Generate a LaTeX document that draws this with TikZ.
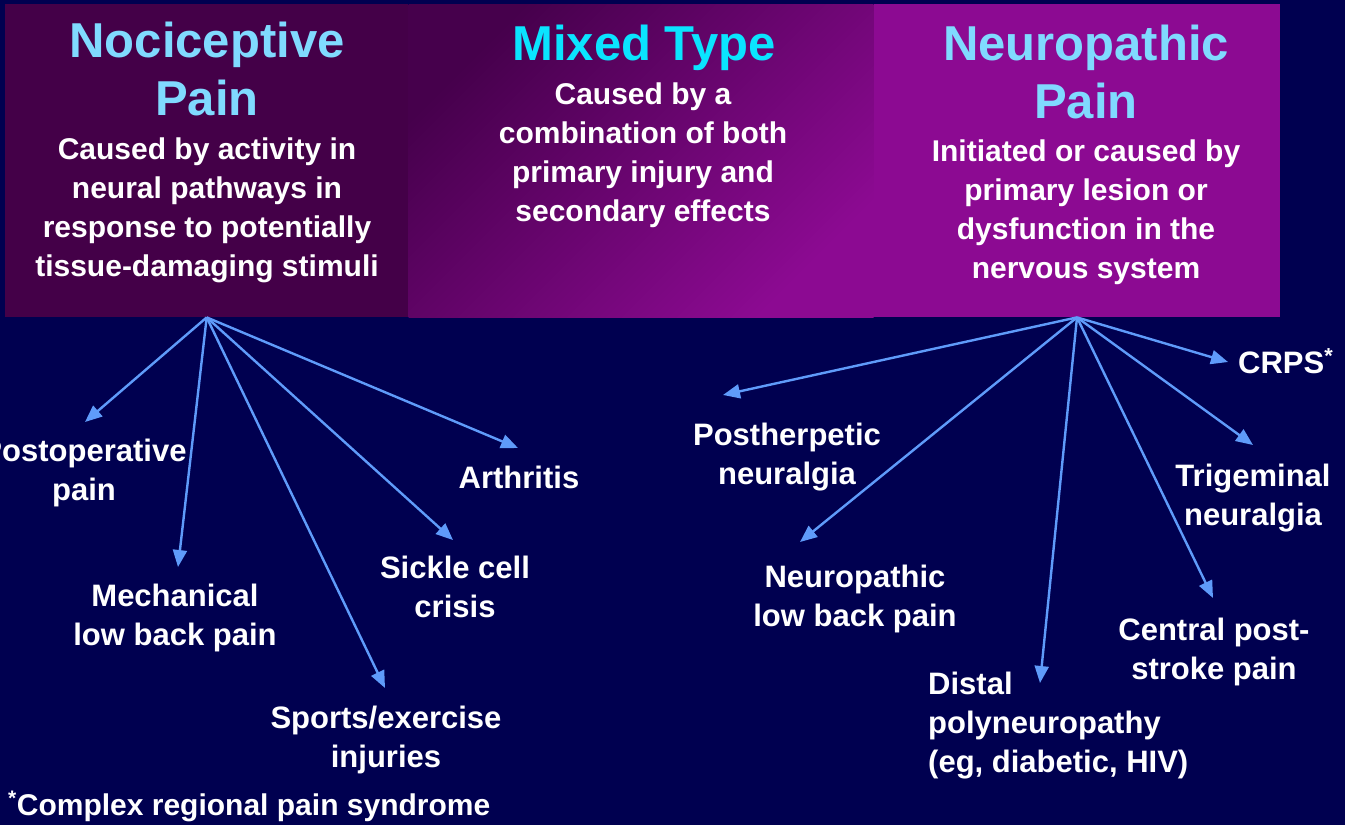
\documentclass[tikz,border=0pt]{standalone}
\usepackage{fontspec}
\setmainfont{Liberation Sans}
\usepackage{xcolor}
\usetikzlibrary{arrows.meta,positioning}
\definecolor{slidebg}{RGB}{0,0,80}
\definecolor{nocifill}{RGB}{68,0,72}
\definecolor{mixdark}{RGB}{70,0,76}
\definecolor{neufill}{RGB}{140,10,146}
\definecolor{titlecyan}{RGB}{128,218,255}
\definecolor{mixcyan}{RGB}{10,228,255}
\definecolor{arrowblue}{RGB}{95,155,250}

\begin{document}
\begin{tikzpicture}[
    x=1pt, y=-1pt,
    >={Triangle[length=17pt,width=14pt]},
    headbox/.style={inner sep=0pt, minimum height=313pt},
    headtitle/.style={anchor=base, align=center, inner sep=0pt, font=\bfseries\fontsize{49}{58}\selectfont},
    headtext/.style={anchor=base, align=center, inner sep=0pt, text=white, font=\bfseries\fontsize{30}{38.7}\selectfont},
    leaf/.style={anchor=base, align=center, inner sep=0pt, text=white, font=\bfseries\fontsize{31}{39}\selectfont},
    link/.style={->, draw=arrowblue, fill=arrowblue, line width=2.4pt}
]
% slide background
\fill[slidebg] (0,0) rectangle (1345,825);
\useasboundingbox (0,0) rectangle (1345,825);

% three header panels
\node[headbox, fill=nocifill, minimum width=403pt, anchor=north west] (nocbox) at (5,4) {};
\node[headbox, minimum width=465pt, top color=mixdark, bottom color=neufill, shading angle=45, right=0pt of nocbox] (mixbox) {};
\node[headbox, fill=neufill, minimum width=406pt, right=0pt of mixbox] (neubox) {};

% base anchor sits on the last line of each node
\node[headtitle, text=titlecyan] (nocititle) at (207,115) {Nociceptive\\Pain};
\node[headtext] (nocitext) at (207,276) {Caused by activity in\\neural pathways in\\response to potentially\\tissue-damaging stimuli};
\node[headtitle, text=mixcyan] (mixtitle) at (644,60) {Mixed Type};
\node[headtext] (mixtext) at (643,221) {Caused by a\\combination of both\\primary injury and\\secondary effects};
\node[headtitle, text=titlecyan] (neutitle) at (1086,118) {Neuropathic\\Pain};
\node[headtext] (neutext) at (1086,278) {Initiated or caused by\\primary lesion or\\dysfunction in the\\nervous system};

% nociceptive examples
\node[leaf] (postop) at (84,500) {Postoperative\\pain};
\node[leaf] (mech) at (175,645) {Mechanical\\low back pain};
\node[leaf] (sports) at (386,767) {Sports/exercise\\injuries};
\node[leaf] (sickle) at (455,617) {Sickle cell\\crisis};
\node[leaf] (arthr) at (519,488) {Arthritis};

% neuropathic examples
\node[leaf] (posther) at (787,484) {Postherpetic\\neuralgia};
\node[leaf] (nplow) at (855,626) {Neuropathic\\low back pain};
\node[leaf, align=left, anchor=base west] (distal) at (928,772) {Distal\\polyneuropathy\\(eg, diabetic, HIV)};
\node[leaf] (central) at (1214,679) {Central post-\\stroke pain};
\node[leaf] (trigem) at (1253,525) {Trigeminal\\neuralgia};
\node[leaf, anchor=base west] (crps) at (1238,373) {CRPS\textsuperscript{*}};

\node[leaf, anchor=base west, font=\bfseries\fontsize{30}{36}\selectfont] (footnote) at (8,815) {\textsuperscript{*}Complex regional pain syndrome};

% arrow ends
\coordinate (postip) at (85,422);
\coordinate (mechtip) at (178,567);
\coordinate (sporttip) at (385,688);
\coordinate (sickletip) at (453,540);
\coordinate (arthrtip) at (518,448);
\coordinate (posthtip) at (723,395);
\coordinate (nplowtip) at (800,542);
\coordinate (distaltip) at (1040,683);
\coordinate (centraltip) at (1213,598);
\coordinate (trigemtip) at (1253,445);
\coordinate (crpstip) at (1228,362);

\draw[link] (nocbox.south) -- (postip);
\draw[link] (nocbox.south) -- (mechtip);
\draw[link] (nocbox.south) -- (sporttip);
\draw[link] (nocbox.south) -- (sickletip);
\draw[link] (nocbox.south) -- (arthrtip);

\draw[link] (neubox.south) -- (posthtip);
\draw[link] (neubox.south) -- (nplowtip);
\draw[link] (neubox.south) -- (distaltip);
\draw[link] (neubox.south) -- (centraltip);
\draw[link] (neubox.south) -- (trigemtip);
\draw[link] (neubox.south) -- (crpstip);
\end{tikzpicture}
\end{document}
